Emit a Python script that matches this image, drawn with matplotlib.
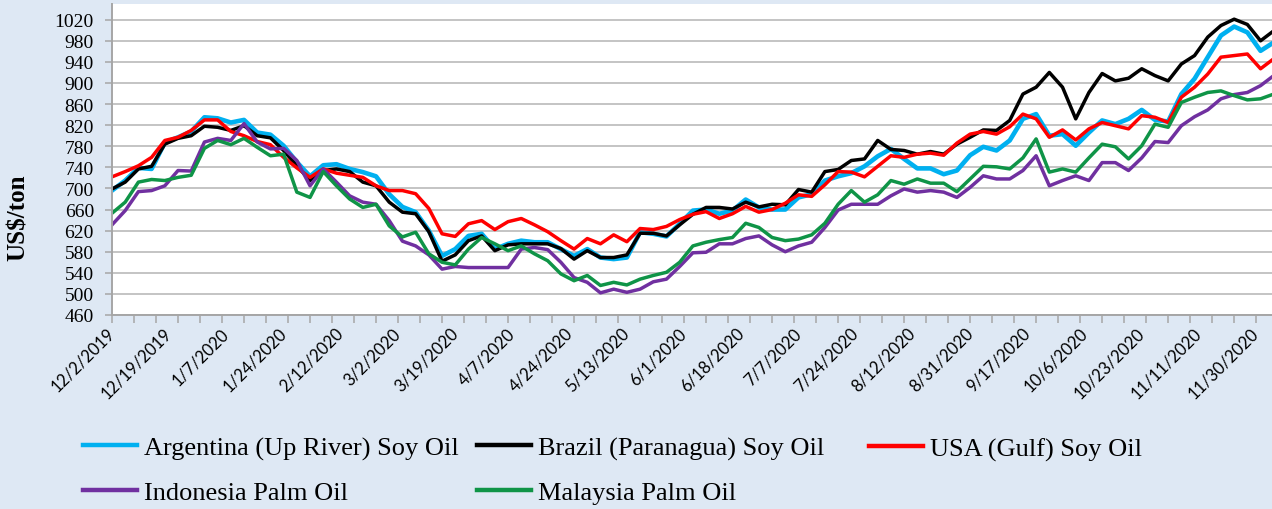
import numpy as np
import matplotlib
matplotlib.use('Agg')
import matplotlib.pyplot as plt

# business-day index of each reading (every 3rd trading day from 12/2/2019)
day_idx = np.arange(0, 265, 3)

argentina = [696, 715, 739, 737, 787, 797, 808, 835, 833, 825, 830, 806, 802, 781, 750, 723, 744, 746, 737, 731, 723, 689,
             665,
             655, 620, 572, 585, 610, 614, 585, 595, 601, 598, 598, 585, 572, 585, 569, 566, 569, 617, 614, 609, 633,
             658,
             660, 652, 658, 679, 664, 660, 660, 683, 689, 715, 723, 729, 742, 761, 775, 756, 738, 738, 727, 734, 763,
             779,
             772, 791, 832, 841, 800, 803, 781, 806, 829, 822, 832, 849, 830, 827, 879, 908, 949, 990, 1007, 996, 961, 977]

brazil = [699, 712, 737, 742, 784, 795, 800, 818, 816, 810, 819, 800, 796, 772, 743, 715, 734, 737, 732, 712, 705, 674,
          655,
          652, 618, 562, 574, 601, 610, 582, 593, 595, 595, 595, 586, 566, 582, 569, 569, 574, 615, 615, 610, 631,
          651,
          664, 664, 661, 674, 665, 670, 669, 698, 693, 732, 736, 753, 756, 791, 774, 772, 765, 770, 765, 784, 797,
          811,
          810, 829, 879, 892, 920, 892, 832, 882, 918, 904, 909, 927, 914, 904, 936, 952, 987, 1009, 1021, 1011, 980, 999]

usa = [722, 732, 743, 759, 791, 797, 810, 830, 830, 808, 800, 789, 783, 759, 739, 721, 737, 729, 725, 721, 705, 696,
       696,
       690, 662, 614, 609, 633, 639, 622, 637, 643, 631, 618, 601, 585, 605, 595, 612, 599, 624, 622, 628, 641,
       651,
       656, 643, 652, 666, 655, 660, 672, 688, 685, 707, 732, 731, 722, 742, 762, 759, 765, 767, 763, 786, 803,
       808,
       803, 817, 841, 832, 797, 811, 792, 813, 825, 819, 813, 838, 835, 825, 873, 892, 917, 949, 952, 955, 927, 946]

indonesia = [631, 658, 694, 696, 705, 734, 733, 788, 795, 791, 823, 788, 775, 776, 753, 705, 737, 712, 686, 674, 670, 639,
             600,
             591, 574, 547, 552, 550, 550, 550, 550, 585, 588, 584, 560, 531, 522, 502, 509, 503, 509, 523, 528, 552,
             578,
             579, 595, 595, 605, 610, 593, 580, 591, 598, 626, 659, 670, 670, 670, 686, 699, 693, 696, 693, 683, 702,
             724,
             718, 718, 734, 762, 705, 715, 724, 715, 749, 749, 734, 758, 789, 787, 819, 836, 849, 870, 878, 882, 895, 914]

malaysia = [653, 674, 712, 717, 715, 721, 725, 776, 791, 783, 795, 778, 762, 765, 693, 683, 732, 705, 680, 664, 670, 629,
            608,
            617, 576, 560, 555, 585, 607, 595, 582, 591, 576, 563, 538, 525, 535, 516, 522, 517, 528, 535, 541, 560,
            591,
            598, 603, 607, 634, 626, 607, 601, 604, 612, 634, 670, 696, 674, 688, 715, 708, 718, 710, 710, 694, 718,
            742,
            741, 737, 758, 794, 731, 737, 731, 758, 784, 779, 756, 781, 822, 816, 863, 873, 882, 885, 876, 868, 870, 879]

date_labels = ['12/2/2019', '12/19/2019', '1/7/2020', '1/24/2020', '2/12/2020', '3/2/2020', '3/19/2020',
               '4/7/2020', '4/24/2020', '5/13/2020', '6/1/2020', '6/18/2020', '7/7/2020', '7/24/2020',
               '8/12/2020', '8/31/2020', '9/17/2020', '10/6/2020', '10/23/2020', '11/11/2020', '11/30/2020']

series = [
    ('Argentina (Up River) Soy Oil', argentina, '#00b0f0', 3.3),
    ('Brazil (Paranagua) Soy Oil', brazil, '#000000', 2.5),
    ('USA (Gulf) Soy Oil', usa, '#ff0000', 2.5),
    ('Indonesia Palm Oil', indonesia, '#7030a0', 2.5),
    ('Malaysia Palm Oil', malaysia, '#0f9447', 2.5),
]

bg = '#dee8f4'
fig = plt.figure(figsize=(12.72, 5.10), dpi=100, facecolor=bg)
ax = fig.add_axes([112 / 1272, 194 / 510, 1160 / 1272, 311 / 510])
ax.set_facecolor('white')

lines = {}
for name, vals, col, lw in series:
    ln, = ax.plot(day_idx, vals, color=col, lw=lw, solid_joinstyle='round', label=name)
    lines[name] = ln

ax.set_xlim(0, 263.6)
ax.set_ylim(460, 1049.8)

yt = np.arange(460, 1021, 40)
ax.set_yticks(yt)
ax.set_yticklabels([str(v) for v in yt], fontfamily='Liberation Serif', fontsize=14)
ax.yaxis.grid(True, color='#c4c4c4', lw=1.4)
ax.set_axisbelow(True)

# date labels every 13 days, tick marks every 5 days
ax.xaxis.remove_overlapping_locs = False
ax.set_xticks(np.arange(0, 261, 13))
ax.set_xticklabels(date_labels, rotation=45, ha='right', va='center',
                   rotation_mode='anchor', fontfamily='Lato', fontsize=12)
ax.set_xticks(np.arange(0, 264, 5), minor=True)
ax.tick_params(axis='x', which='minor', length=6, color='#a6a6a6', width=1.1, direction='out')
ax.tick_params(axis='x', which='major', length=0, pad=11)
ax.tick_params(axis='y', length=5, color='#a6a6a6', width=1.1, pad=8)

for s in ['top', 'right']:
    ax.spines[s].set_visible(False)
for s in ['left', 'bottom']:
    ax.spines[s].set_color('#a6a6a6')
    ax.spines[s].set_linewidth(1.4)

ax.set_ylabel('US$/ton', fontfamily='Liberation Serif', fontweight='bold', fontsize=18)
ax.yaxis.set_label_coords(-0.0707, 0.315)

leg_kw = dict(frameon=False, prop={'family': 'Liberation Serif', 'size': 19}, borderpad=0,
              borderaxespad=0, handlelength=2.05, handletextpad=0.25, labelspacing=0.78,
              loc='center left')
col1 = ['Argentina (Up River) Soy Oil', 'Indonesia Palm Oil']
col2 = ['Brazil (Paranagua) Soy Oil', 'Malaysia Palm Oil']
col3 = ['USA (Gulf) Soy Oil']
for names, x0, yc in [(col1, 83, 471), (col2, 477, 471), (col3, 869, 450)]:
    lg = fig.legend([lines[n] for n in names], names, bbox_to_anchor=(x0 / 1272, 1 - yc / 510), **leg_kw)
    for h in lg.legend_handles:
        h.set_linewidth(3.2)

fig.savefig('out.png', dpi=100, facecolor=bg)
